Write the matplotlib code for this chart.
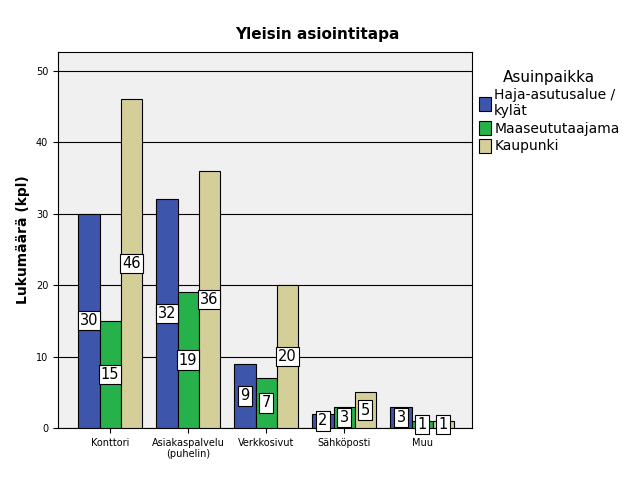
import matplotlib
matplotlib.use("Agg")
import matplotlib.pyplot as plt
import numpy as np

categories = ["Konttori", "Asiakaspalvelu\n(puhelin)", "Verkkosivut", "Sähköposti", "Muu"]
series_names = ["Haja-asutusalue /\nkylät", "Maaseututaajama", "Kaupunki"]
haja = [30, 32, 9, 2, 3]
maaseutu = [15, 19, 7, 3, 1]
kaupunki = [46, 36, 20, 5, 1]
colors = ["#3D55AB", "#27B14A", "#D4CF98"]

fig = plt.figure(figsize=(6.34, 4.92), dpi=100)
ax = fig.add_axes([58/634, 1-428/492, 414/634, 376/492])
ax.set_facecolor("#F0F0F0")
x = np.arange(len(categories))
w = 0.27
for i, (vals, c, n) in enumerate(zip([haja, maaseutu, kaupunki], colors, series_names)):
    xs = x + (i-1)*w
    ax.bar(xs, vals, w, color=c, edgecolor="black", linewidth=0.8, label=n, zorder=3)
    for xx, v in zip(xs, vals):
        ax.text(xx, v/2, str(v), ha="center", va="center", fontsize=10.5, zorder=4,
                bbox=dict(boxstyle="square,pad=0.15", fc="white", ec="black", lw=0.8))
ax.set_xlim(-0.667, 4.64)
ax.set_ylim(0, 52.6)
ax.set_yticks(range(0, 51, 10))
ax.yaxis.grid(True, color="black", linewidth=0.8, zorder=0)
ax.set_xticks(x)
ax.set_xticklabels(categories, fontsize=7)
ax.tick_params(axis="y", labelsize=7)
ax.set_ylabel("Lukumäärä (kpl)", fontsize=10, fontweight="bold")
fig.text(317/634, 1-34/492, "Yleisin asiointitapa", ha="center", va="center", fontsize=11, fontweight="bold")
leg = ax.legend(loc="upper left", bbox_to_anchor=(1.0, 0.97), frameon=False, title="Asuinpaikka",
                fontsize=10, title_fontsize=11, handlelength=0.9, handleheight=1.2, borderaxespad=0.1,
                labelspacing=0.2, handletextpad=0.2)
fig.savefig("out.png", dpi=100)
